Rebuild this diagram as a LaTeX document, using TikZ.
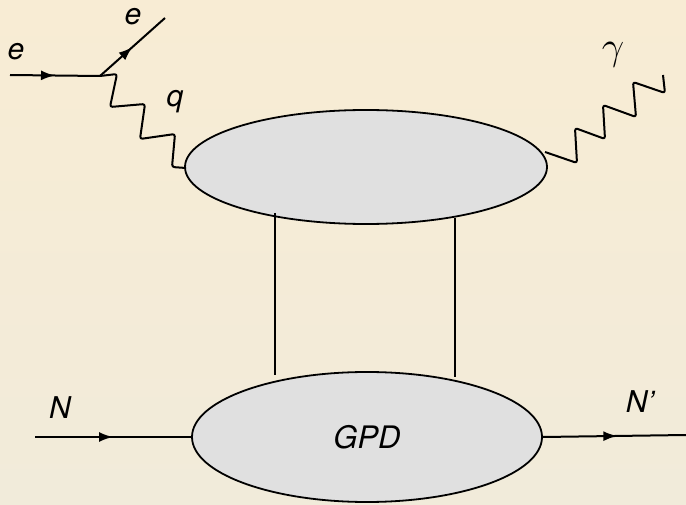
\documentclass[tikz,border=0pt]{standalone}
\usepackage{fontspec}
\setmainfont{TeX Gyre Heros}
\usetikzlibrary{shapes.geometric,decorations.markings,arrows.meta}
\definecolor{bgtop}{RGB}{248,236,212}
\definecolor{bgbot}{RGB}{241,235,218}
\definecolor{blobgray}{RGB}{224,224,224}
\begin{document}
\begin{tikzpicture}[x=1pt,y=-1pt,
  line width=2pt,line join=round,
  blob/.style={ellipse,draw,line width=1.8pt,fill=blobgray,inner sep=0pt},
  fermion/.style={postaction={decorate},decoration={markings,
    mark=at position #1 with {\arrow{Latex[length=14pt,width=10pt]}}}},
  fermion/.default=0.5,
  wavy/.style={rounded corners=2.5pt},
  lbl/.style={font=\fontsize{30}{34}\selectfont\itshape,inner sep=0pt}]
\shade[top color=bgtop,bottom color=bgbot] (0,0) rectangle (686,505);
\useasboundingbox (0,0) rectangle (686,505);

\node[blob,minimum width=362pt,minimum height=114pt] (blob) at (366,167) {};
\node[blob,minimum width=350pt,minimum height=130pt] (gpd) at (367,437)
  {\fontsize{31}{34}\selectfont\itshape GPD};

% lepton vertex
\coordinate (ein) at (10,75);
\coordinate (vtx) at (100,76);
\coordinate (eout) at (165,18);
\coordinate (qend) at (186,168);
\coordinate (gstart) at (545,152);
\coordinate (gend) at (663,75);
\draw[fermion] (ein) -- (vtx);
\draw[fermion] (vtx) -- (eout);
% virtual photon q
\draw[wavy] (vtx) -- ++(17,-2) -- ++(-7,33) -- ++(35,-3) -- ++(-5,35)
  -- ++(35,-5) -- ++(-3,33) -- (qend);
% outgoing photon
\draw[wavy] (gstart) -- ++(32,11) -- ++(-2,-35) -- ++(30,11) -- ++(-2,-34)
  -- ++(33,12) -- ++(-3,-35) -- ++(32,11) -- (gend);

% exchanged partons
\coordinate (l1) at (275,213);
\coordinate (l2) at (275,375);
\coordinate (r1) at (455,218);
\coordinate (r2) at (455,377);
\draw[line width=1.5pt] (l1) -- (l2);
\draw[line width=1.5pt] (r1) -- (r2);

% nucleon lines
\coordinate (nin) at (35,437);
\coordinate (nout) at (686,435);
\draw[fermion] (nin) -- (gpd.west);
\draw[fermion=0.52] (gpd.east) -- (nout);

\node[lbl] (le1) at (16,52) {e};
\node[lbl] (le2) at (133,17) {e};
\node[lbl] (lq) at (175,102) {q};
\node[lbl] (lg) at (613,55) {\scalebox{1.6}{$\gamma$}};
\node[lbl] (lN) at (60,408) {N};
\node[lbl] (lN2) at (640,402) {N'};
\end{tikzpicture}
\end{document}
